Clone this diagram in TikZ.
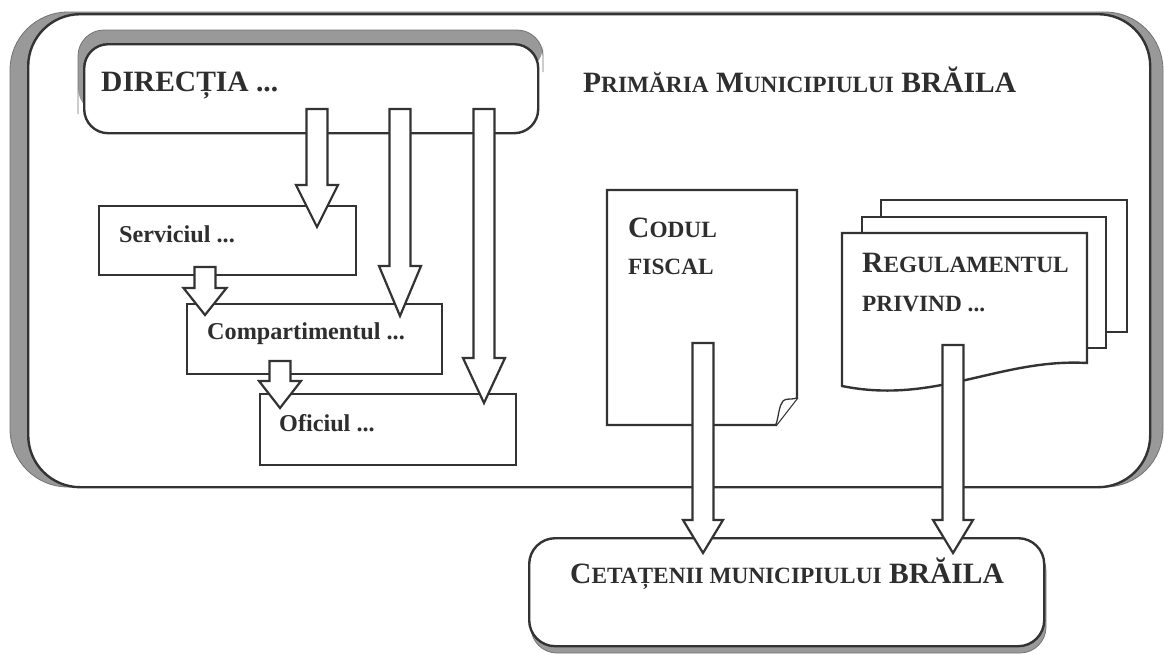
\documentclass[tikz,border=0pt]{standalone}
\usepackage{fontspec}
\setmainfont{Liberation Serif}
\usetikzlibrary{calc}
\newcommand\sm[1]{{\fontsize{23.3}{24}\selectfont #1}}
\newcommand\barw[4]{%
  \draw[barrow] let \p1=(#1), \p2=(#2) in
   (\x1-10.5pt,\y1) -- (\x1+10.5pt,\y1) -- (\x1+10.5pt,\y2+#3) -- (\x1+#4,\y2+#3)
   -- (\x1,\y2) -- (\x1-#4,\y2+#3) -- (\x1-10.5pt,\y2+#3) -- cycle;}
\begin{document}
\begin{tikzpicture}[x=1pt,y=-1pt,
  shadowc/.style={fill=black!40, draw=black!55, line width=0.8pt},
  box/.style={draw=black!80, line width=2.4pt, fill=white, inner sep=0pt},
  lbl/.style={inner sep=0pt, anchor=base west, text=black!82},
  big/.style={font=\fontsize{29.5}{31}\selectfont\bfseries},
  small/.style={font=\fontsize{24.2}{25}\selectfont\bfseries},
  barrow/.style={draw=black!80, line width=2.2pt, fill=white, line join=miter}]
\useasboundingbox (0,0) rectangle (1164,654);
\fill[white] (0,0) rectangle (1164,654);

% outer frame
\fill[shadowc, rounded corners=58pt] (10,12) rectangle (1163,487);
\node[box, rounded corners=52pt, minimum width=1122pt, minimum height=473pt, anchor=north west] (prim) at (27,13) {};
\node[lbl, big] (primt) at (583,92) {P\sm{RIMĂRIA} M\sm{UNICIPIULUI} BRĂILA};

% directia
\fill[black!40, rounded corners=26pt] (78,30) rectangle (530,114);
\fill[black!40, rounded corners=26pt] (100,30) rectangle (543,72);
\draw[black!55, line width=0.8pt, rounded corners=26pt] (78,114) -- (78,30) -- (543,30) -- (543,72);
\node[box, rounded corners=24pt, minimum width=454pt, minimum height=89pt, anchor=north west] (dir) at (83,43) {};
\node[lbl, big] (dirt) at (101,91) {DIRECȚIA ...};

% boxes
\node[box, minimum width=257pt, minimum height=69pt, anchor=north west] (serv) at (98,205) {};
\node[lbl, small] (servt) at (119,242) {Serviciul ...};
\node[box, minimum width=255pt, minimum height=70pt, anchor=north west] (comp) at (186,303) {};
\node[lbl, small] (compt) at (207,339) {Compartimentul ...};
\node[box, minimum width=256pt, minimum height=71pt, anchor=north west] (ofic) at (259,393) {};
\node[lbl, small] (ofict) at (279,431) {Oficiul ...};

% codul fiscal document
\draw[box, line join=miter] (607,190) coordinate (cod) -- (797,190) -- (797,398) -- (776,425) -- (607,425) -- cycle;
\draw[black!80, line width=1.3pt, fill=white] (776,425) .. controls (779,414) and (779,406) .. (783,401)
   .. controls (786,398) and (790,400) .. (797,398);
\node[lbl, big] (codt1) at (628,237) {C\sm{ODUL}};
\node[lbl, big] (codt2) at (628,274) {\sm{FISCAL}};

% regulamentul pages
\draw[box] (881,200) rectangle (1127,332);
\draw[box] (862,217) rectangle (1106,348);
\draw[box, line join=miter] (842,233) coordinate (reg) -- (1087,233) -- (1087,363)
   .. controls (1000,358) and (935,405) .. (842,386) -- cycle;
\node[lbl, big] (regt1) at (862,272) {R\sm{EGULAMENTUL}};
\node[lbl, big] (regt2) at (862,311) {\sm{PRIVIND ...}};

% cetatenii
\fill[shadowc, rounded corners=26pt] (531,545) rectangle (1046,653);
\node[box, rounded corners=26pt, minimum width=515pt, minimum height=108pt, anchor=north west] (cet) at (528,537) {};
\node[lbl, big] (cett) at (570,583) {C\sm{ETAȚENII MUNICIPIULUI} BRĂILA};

% arrow coordinates
\coordinate (a1s) at (317,109); \coordinate (a1e) at (317,227);
\coordinate (a2s) at (400,109); \coordinate (a2e) at (400,316);
\coordinate (a3s) at (484,109); \coordinate (a3e) at (484,403);
\coordinate (scs) at (205,267); \coordinate (sce) at (205,315);
\coordinate (cos) at (280,361); \coordinate (coe) at (280,408);
\coordinate (d1s) at (703,343); \coordinate (d1e) at (703,553);
\coordinate (d2s) at (953,345); \coordinate (d2e) at (953,553);

\barw{a1s}{a1e}{42pt}{21pt}
\barw{a2s}{a2e}{50pt}{21pt}
\barw{a3s}{a3e}{45pt}{21pt}
\barw{scs}{sce}{27pt}{21.5pt}
\barw{cos}{coe}{27pt}{21pt}
\barw{d1s}{d1e}{33pt}{20pt}
\barw{d2s}{d2e}{33pt}{20pt}
\end{tikzpicture}
\end{document}
